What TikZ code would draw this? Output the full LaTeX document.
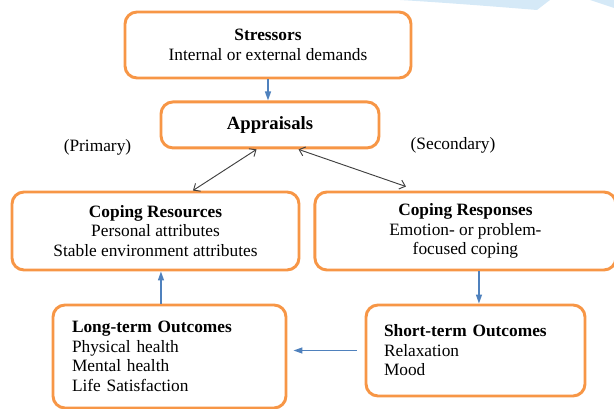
\documentclass[tikz,border=0pt]{standalone}
\usepackage{fontspec}
\setmainfont{Liberation Serif}
\usepackage{tikz}
\usetikzlibrary{arrows.meta}
\usetikzlibrary{positioning}
\definecolor{boxorange}{HTML}{F79646}
\definecolor{arrowblue}{HTML}{4F81BD}
\definecolor{wash}{HTML}{D5E9F7}

\begin{document}
\begin{tikzpicture}[x=0.75pt,y=-0.75pt,
    font=\fontsize{13}{14.6}\selectfont,
    block/.style={rectangle, rounded corners=9pt, draw=boxorange, line width=2.2pt, fill=white, align=center, inner sep=0pt},
    note/.style={font=\fontsize{13}{14.6}\selectfont},
    flow/.style={draw=arrowblue, line width=1pt, -{Triangle[length=6.75pt,width=4.5pt]}},
    link/.style={draw=black!75, line width=0.7pt, {Straight Barb[length=4pt,width=7pt]}-{Straight Barb[length=4pt,width=7pt]}}
  ]
  \useasboundingbox (0,0) rectangle (614,409);
  % faint wash at the top edge
  \fill[wash] (400,0) .. controls (450,3) and (500,7) .. (537,10) -- (550,0) -- cycle;
  \fill[wash] (590,0) -- (614,8) -- (614,0) -- cycle;

  \node[block, minimum width=214.5pt, minimum height=49.5pt] (stress) at (268,45) {\textbf{Stressors}\\Internal or external demands};
  \node[block, minimum width=163.5pt, minimum height=34.5pt, below=15.75pt of stress, xshift=1.5pt, font=\fontsize{14}{16}\selectfont] (appr) {\raisebox{2pt}{\textbf{Appraisals}}};
  \node[block, minimum width=215.25pt, minimum height=58.5pt] (res) at (155.5,231) {\textbf{Coping Resources}\\Personal attributes\\Stable environment attributes};
  \node[block, minimum width=225.75pt, minimum height=58.5pt, right=9.75pt of res] (resp) {\textbf{Coping Responses}\\Emotion- or problem-\\focused coping};
  \node[block, minimum width=174.75pt, minimum height=77.25pt, text width=146.25pt, align=left] (lto) at (169.5,356.5) {\textbf{Long-term Outcomes}\\Physical health\\Mental health\\Life Satisfaction};
  \node[block, minimum width=164.25pt, minimum height=68.25pt, text width=137.25pt, align=left] (sto) at (475.5,350.5) {\textbf{Short-term Outcomes}\\Relaxation\\Mood};

  \node[note] (prim) at (97.5,147) {(Primary)};
  \node[note] (sec) at (453,145) {(Secondary)};

  \path[flow] (stress.south) -- (stress.south |- appr.north);
  \path[link] ([xshift=-10.1pt]appr.south) -- ([xshift=28.1pt]res.north);
  \path[link] ([xshift=21.4pt]appr.south) -- ([xshift=-44.6pt,yshift=3pt]resp.north);
  \path[flow] ([xshift=2.6pt]sto.north |- resp.south) -- ([xshift=2.6pt]sto.north);
  \path[flow] ([xshift=-6pt]sto.west) -- ([xshift=4.5pt]sto.west -| lto.east);
  \path[flow] ([xshift=-6.4pt]lto.north) -- ([xshift=-6.4pt]lto.north |- res.south);
\end{tikzpicture}
\end{document}
